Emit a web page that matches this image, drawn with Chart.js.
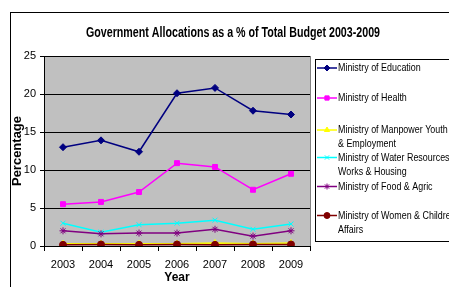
<!DOCTYPE html>
<html>
<head>
<meta charset="utf-8">
<script src="https://cdn.jsdelivr.net/npm/chart.js@4.4.1/dist/chart.umd.min.js"></script>
<style>
  body { margin: 0; background: #fff; }
  #wrap { width: 449px; height: 287px; }
</style>
</head>
<body>
<div id="wrap"><canvas id="grafico" width="449" height="287"></canvas></div>
<script>
const anos = ['2003', '2004', '2005', '2006', '2007', '2008', '2009'];
const yTicks = [0, 5, 10, 15, 20, 25];

const educacao = [13.0, 13.9, 12.4, 20.1, 20.8, 17.8, 17.3];
const saude = [5.5, 5.8, 7.1, 10.9, 10.4, 7.4, 9.5];
const manpower = [0.3, 0.3, 0.3, 0.3, 0.4, 0.3, 0.4];
const agua = [3.0, 1.8, 2.8, 3.0, 3.4, 2.2, 2.9];
const alimentos = [2.0, 1.6, 1.7, 1.7, 2.2, 1.3, 2.0];
const mulheres = [0.15, 0.2, 0.15, 0.2, 0.15, 0.2, 0.2];

const nomes = [
  ['Ministry of Education'],
  ['Ministry of Health'],
  ['Ministry of Manpower Youth', '& Employment'],
  ['Ministry of Water Resources,', 'Works & Housing'],
  ['Ministry of Food & Agric'],
  ['Ministry of Women & Children', 'Affairs']
];
const cores = ['#000080', '#FF00FF', '#FFFF00', '#00FFFF', '#800080', '#800000'];
const marcadores = ['rectRot', 'rect', 'triangle', 'crossRot', 'star', 'circle'];
const series = [educacao, saude, manpower, agua, alimentos, mulheres];

const titulo = 'Government Allocations as a % of Total Budget 2003-2009';
const fonte = "'Liberation Sans', Arial, sans-serif";

// legend rows (first line centre y)
const legendaY = [68, 98, 130, 157.5, 186.5, 215.5];

const fundo = {
  id: 'fundo',
  beforeDraw(chart) {
    const ctx = chart.ctx;
    const a = chart.chartArea;
    ctx.save();
    ctx.fillStyle = '#fff';
    ctx.fillRect(0, 0, chart.width, chart.height);
    ctx.strokeStyle = '#000';
    ctx.lineWidth = 1;
    ctx.strokeRect(10.5, 12.5, 460, 300);
    ctx.fillStyle = '#C0C0C0';
    ctx.fillRect(a.left, a.top, a.right - a.left, a.bottom - a.top);
    ctx.strokeStyle = '#808080';
    ctx.strokeRect(a.left + 0.5, a.top + 0.5, a.right - a.left, a.bottom - a.top);
    ctx.fillStyle = '#000';
    ctx.font = 'bold 14px ' + fonte;
    ctx.textAlign = 'center';
    ctx.textBaseline = 'middle';
    ctx.fillText(titulo, 233, 33, 294);
    ctx.restore();
  },
  afterDraw(chart) {
    const ctx = chart.ctx;
    ctx.save();
    ctx.fillStyle = '#fff';
    ctx.fillRect(315, 59, 140, 183);
    ctx.strokeStyle = '#000';
    ctx.lineWidth = 1;
    ctx.strokeRect(315.5, 59.5, 140, 182);
    ctx.font = '11px ' + fonte;
    ctx.textAlign = 'left';
    ctx.textBaseline = 'middle';
    chart.data.datasets.forEach((ds, i) => {
      const y = legendaY[i];
      ctx.strokeStyle = ds.borderColor;
      ctx.lineWidth = 1.5;
      ctx.beginPath();
      ctx.moveTo(317, y);
      ctx.lineTo(337, y);
      ctx.stroke();
      ctx.fillStyle = ds.backgroundColor;
      ctx.strokeStyle = ds.borderColor;
      ctx.lineWidth = 1;
      Chart.helpers.drawPoint(ctx, { pointStyle: ds.pointStyle, radius: 3, borderWidth: 1, rotation: 0 }, 327, y);
      ctx.fillStyle = '#000';
      nomes[i].forEach((linha, k) => {
        ctx.save();
        ctx.translate(338, y + k * 14);
        ctx.scale(0.81, 1);   // texto estreito como no original
        ctx.fillText(linha, 0, 0);
        ctx.restore();
      });
    });
    ctx.restore();
  }
};

const ctx = document.getElementById('grafico').getContext('2d');
new Chart(ctx, {
  type: 'line',
  data: {
    labels: anos,
    datasets: series.map((dados, i) => ({
      label: nomes[i].join(' '),
      data: dados,
      borderColor: cores[i],
      backgroundColor: cores[i],
      pointStyle: marcadores[i],
      pointRadius: 3.5,
      pointBorderWidth: 1,
      borderWidth: 1.5,
      tension: 0,
      order: series.length - i
    }))
  },
  options: {
    responsive: false,
    animation: false,
    layout: { padding: { top: 56, right: 139, left: 0, bottom: 0 } },
    plugins: { legend: { display: false }, title: { display: false }, tooltip: { enabled: false } },
    scales: {
      x: {
        offset: true,
        afterFit: s => { s.height = 41; },
        grid: { offset: true, drawOnChartArea: false, color: '#000', tickLength: 5 },
        border: { color: '#000' },
        ticks: { color: '#000', font: { family: fonte, size: 11 }, padding: 7, maxRotation: 0 },
        title: { display: true, text: 'Year', color: '#000', font: { family: fonte, size: 12, weight: 'bold' }, padding: { top: 0, bottom: 2 } }
      },
      y: {
        min: 0,
        max: 25,
        afterFit: s => { s.width = 44; },
        afterBuildTicks: s => { s.ticks = yTicks.map(v => ({ value: v })); },
        grid: { color: '#000', lineWidth: 1, tickLength: 4 },
        border: { color: '#000' },
        ticks: { color: '#000', font: { family: fonte, size: 11 }, padding: 4 },
        title: { display: true, text: 'Percentage', color: '#000', font: { family: fonte, size: 13, weight: 'bold' }, padding: { top: 10, bottom: 0 } }
      }
    }
  },
  plugins: [fundo]
});
</script>
</body>
</html>
